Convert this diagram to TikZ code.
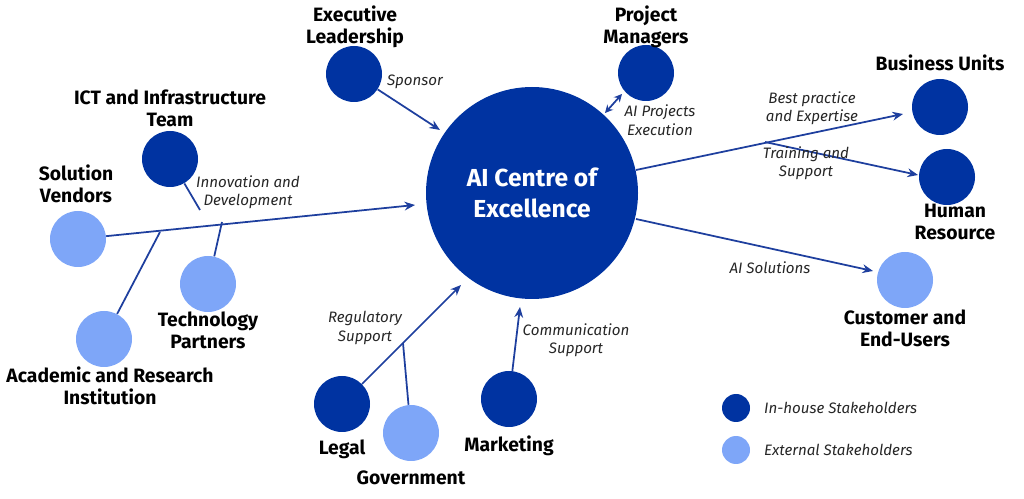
\documentclass[tikz,border=0pt]{standalone}
\usepackage{fontspec}
\setmainfont{Fira Sans}
\usetikzlibrary{arrows.meta}
\definecolor{dk}{HTML}{0033A1}
\definecolor{lt}{HTML}{7EA6F8}
\definecolor{ln}{HTML}{1E3F9E}
\newlength{\pxu}\setlength{\pxu}{0.02cm}
\tikzset{
 inh/.style={circle,fill=dk,minimum size=56\pxu,inner sep=0},
 ext/.style={circle,fill=lt,minimum size=56\pxu,inner sep=0},
 lbl/.style={font=\bfseries\fontsize{11}{12.5}\selectfont,align=center,text=black},
 itl/.style={font=\itshape\fontsize{8.6}{10.5}\selectfont,align=center,text=black!85},
 con/.style={draw=ln,line width=1pt},
 arr/.style={con,-{Stealth[length=6pt,width=5pt]}}
}
\begin{document}
\begin{tikzpicture}[x=0.02cm,y=-0.02cm]
\useasboundingbox (0,0) rectangle (1024,499);
\node[circle,fill=dk,minimum size=212\pxu,inner sep=0,text=white,font=\bfseries\fontsize{14}{17.5}\selectfont,align=center] (c) at (532,193) {AI Centre of\\Excellence};
\node[inh] (ex) at (354,74) {};
\node[inh] (pm) at (646,73) {};
\node[inh] (bu) at (940,107) {};
\node[inh] (hr) at (947,177) {};
\node[inh] (ict) at (170,159) {};
\node[inh] (lg) at (342,404) {};
\node[inh] (mk) at (509,399) {};
\node[ext] (sv) at (78,239) {};
\node[ext] (tp) at (208,284) {};
\node[ext] (ac) at (104,339) {};
\node[ext] (gv) at (411,433) {};
\node[ext] (cu) at (905,280) {};
\node[circle,fill=dk,minimum size=28\pxu,inner sep=0] (l1) at (736,408) {};
\node[circle,fill=lt,minimum size=28\pxu,inner sep=0] (l2) at (736,450) {};
\node[itl,anchor=west] (l1t) at (758,408) {In-house Stakeholders};
\node[itl,anchor=west] (l2t) at (758,450) {External Stakeholders};
% labels
\node[lbl] at (355,27) {Executive\\Leadership};
\node[lbl] at (646,27) {Project\\Managers};
\node[lbl] at (940,63) {Business Units};
\node[lbl] at (955,222) {Human\\Resource};
\node[lbl] at (170,108) {ICT and Infrastructure\\Team};
\node[lbl] at (76,184) {Solution\\Vendors};
\node[lbl] at (208,330) {Technology\\Partners};
\node[lbl] at (110,386) {Academic and Research\\Institution};
\node[lbl] at (342,449) {Legal};
\node[lbl] at (411,478) {Government};
\node[lbl] at (509,446) {Marketing};
\node[lbl] at (905,328) {Customer and\\End-Users};
% coordinates
\coordinate (a1) at (440,130);
\coordinate (p1) at (605,113);
\coordinate (p2) at (622,94);
\coordinate (b0) at (636,170);
\coordinate (b1) at (903,114);
\coordinate (h0) at (765,142);
\coordinate (h1) at (918,175);
\coordinate (cu0) at (636,219);
\coordinate (cu1) at (873,271);
\coordinate (s1) at (415,205);
\coordinate (i1) at (200,210);
\coordinate (t1) at (222,222);
\coordinate (ac1) at (160,232);
\coordinate (lg1) at (461,285);
\coordinate (gv1) at (403,343);
\coordinate (mk1) at (520,307);
% connectors
\draw[arr] (ex) -- (a1);
\draw[con,{Stealth[length=4.5pt,width=4.5pt]}-{Stealth[length=4.5pt,width=4.5pt]}] (p1) -- (p2);
\draw[arr] (b0) -- (b1);
\draw[arr] (h0) -- (h1);
\draw[arr] (cu0) -- (cu1);
\draw[arr] (sv) -- (s1);
\draw[con] (ict) -- (i1);
\draw[con] (tp) -- (t1);
\draw[con] (ac) -- (ac1);
\draw[arr] (lg) -- (lg1);
\draw[con] (gv) -- (gv1);
\draw[arr] (mk) -- (mk1);
% connector labels
\node[itl] at (415,82) {Sponsor};
\node[itl] at (660,120) {AI Projects\\Execution};
\node[itl] at (812,108) {Best practice\\and Expertise};
\node[itl] at (806,163) {Training and\\Support};
\node[itl] at (770,268) {AI Solutions};
\node[itl] at (248,192) {Innovation and\\Development};
\node[itl] at (365,328) {Regulatory\\Support};
\node[itl] at (576,340) {Communication\\Support};
\end{tikzpicture}
\end{document}
